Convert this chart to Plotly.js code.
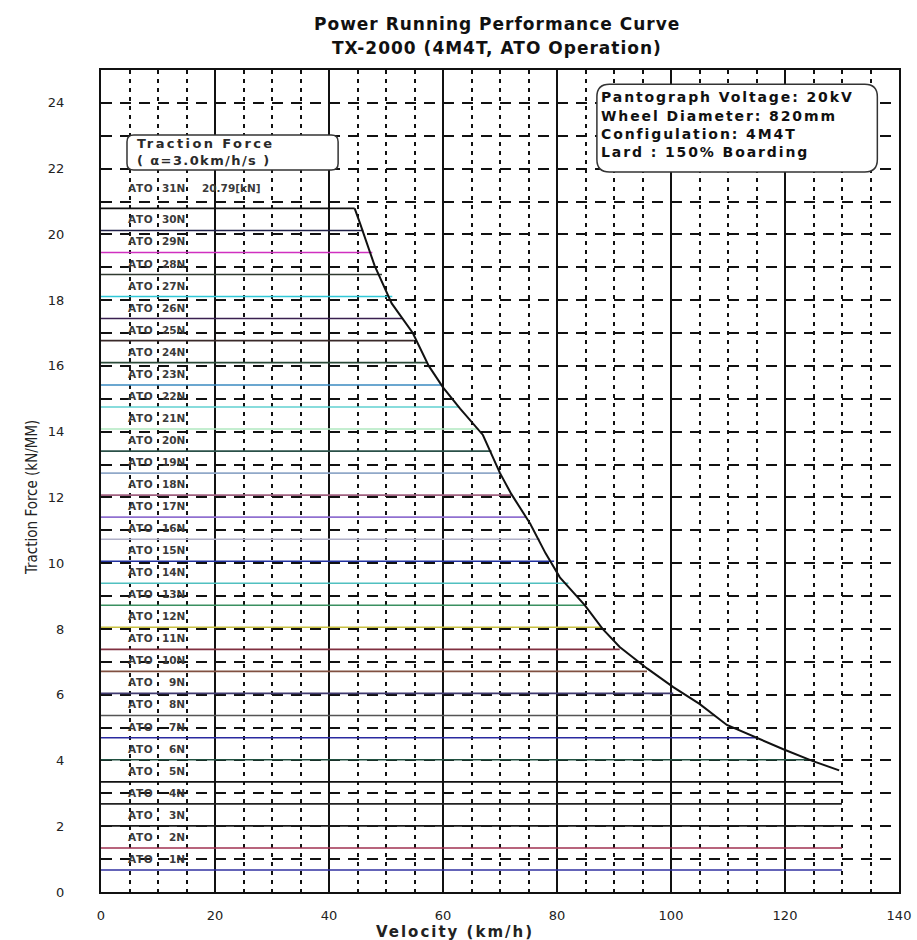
<!DOCTYPE html>
<html>
<head>
<meta charset="utf-8">
<script src="https://cdn.plot.ly/plotly-3.0.1.min.js"></script>
<style>html,body{margin:0;padding:0;background:#fff;}#chart{width:917px;height:940px;}</style>
</head>
<body>
<div id="chart"></div>
<script>
// Notch labels (1N .. 31N)
const notchLabels = ["1N","2N","3N","4N","5N","6N","7N","8N","9N","10N","11N","12N","13N","14N","15N","16N","17N","18N","19N","20N","21N","22N","23N","24N","25N","26N","27N","28N","29N","30N","31N"];
// Traction force per notch (kN/MM)
const notchForce = [0.67,1.34,2.01,2.68,3.35,4.02,4.69,5.37,6.04,6.71,7.38,8.05,8.72,9.39,10.06,10.73,11.40,12.07,12.74,13.41,14.08,14.75,15.42,16.10,16.77,17.44,18.11,18.78,19.45,20.12,20.79];
// Velocity where each notch line meets the max curve (km/h)
const notchEndVelocity = [130,130,130,130,130,124,115,107.7,100.4,95.8,91,87.9,84.9,82,79.5,77,74.5,72,70.2,68.5,66.3,62.7,59.8,57.2,54.9,52.9,51.1,49.3,47.6,46,44.5];
// Line colours per notch
const notchColors = ["#3030a0","#a03050","#1a1a1a","#222222","#111111","#205040","#2a2aa0","#555555","#403a70","#805040","#803040","#c8c040","#3a9060","#50c0c0","#2030a0","#b0b0c8","#9070d0","#a06080","#90a8c8","#2a5048","#b0e8c0","#60d0d0","#3a8ac0","#2a4a38","#3a2a2a","#3a2050","#30c8d8","#303a30","#d030c0","#202048","#111111"];
// Power running max traction curve
const curveVelocity = [44.5,45.4,48,51,54.7,57.5,60,63,67,70,72,75.3,78,80.5,84.9,88,91,95.8,100.4,105,109.8,115,119.6,124.9,129.5];
const curveForce = [20.79,20.36,19.05,17.9,17.0,16.0,15.35,14.7,13.9,12.74,12.1,11.2,10.3,9.57,8.72,8.0,7.45,6.8,6.23,5.72,5.08,4.68,4.35,3.98,3.7];
const xTicks = [0,20,40,60,80,100,120,140];
const yTicks = [0,2,4,6,8,10,12,14,16,18,20,22,24];

const traces = [];
for (let i = 0; i < notchForce.length; i++) {
  traces.push({
    type: 'scatter', mode: 'lines', showlegend: false, hoverinfo: 'skip',
    x: [0, notchEndVelocity[i]], y: [notchForce[i], notchForce[i]],
    line: {color: notchColors[i], width: 1.6}
  });
}
traces.push({
  type: 'scatter', mode: 'lines', showlegend: false, hoverinfo: 'skip',
  x: curveVelocity, y: curveForce, line: {color: '#111', width: 2}
});

function sp(t, px) { return '<span style="letter-spacing:' + px + 'px">' + t + '</span>'; }

const labFont = {family: 'DejaVu Sans, Verdana, sans-serif', size: 10.5, color: '#3a3a3a'};
const annotations = [];
for (let i = 0; i < notchForce.length; i++) {
  const yy = i === notchForce.length - 1 ? notchForce[i] + 0.62 : notchForce[i] + 0.335;
  annotations.push({xref:'x', yref:'y', x: 4.4, y: yy, text: '<b>' + sp('ATO', 0.6) + '</b>', showarrow:false, xanchor:'left', yanchor:'middle', font: labFont});
  annotations.push({xref:'x', yref:'y', x: 15.1, y: yy, text: '<b>' + notchLabels[i] + '</b>', showarrow:false, xanchor:'right', yanchor:'middle', font: labFont});
}
annotations.push({xref:'x', yref:'y', x: 17.4, y: notchForce[30] + 0.62, text: '<b>20.79[kN]</b>', showarrow:false, xanchor:'left', yanchor:'middle', font: labFont});

const boxFont = {family: 'DejaVu Sans, Verdana, sans-serif', size: 13, color: '#2a2a2a'};
annotations.push({xref:'x', yref:'y', x: 6.0, y: 22.76, text: '<b>' + sp('Traction Force', 2.4) + '</b>', showarrow:false, xanchor:'left', yanchor:'middle', font: boxFont});
annotations.push({xref:'x', yref:'y', x: 6.0, y: 22.24, text: '<b>' + sp('( α=3.0km/h/s )', 1.4) + '</b>', showarrow:false, xanchor:'left', yanchor:'middle', font: boxFont});

const infoFont = {family: 'DejaVu Sans, Verdana, sans-serif', size: 14, color: '#111'};
const infoLines = ['Pantograph Voltage: 20kV','Wheel Diameter: 820mm','Configulation: 4M4T','Lard : 150% Boarding'];
const infoY = [24.18, 23.60, 23.05, 22.51];
infoLines.forEach((t, k) => annotations.push({xref:'x', yref:'y', x: 87.3, y: infoY[k], text: '<b>' + sp(t, 1.9) + '</b>', showarrow:false, xanchor:'left', yanchor:'middle', font: infoFont}));

const titleFont = {family: 'DejaVu Sans, Verdana, sans-serif', size: 17, color: '#111'};
annotations.push({xref:'paper', yref:'paper', x: 0.496, y: 1.0560, text: '<b>' + sp('Power Running Performance Curve', 1) + '</b>', showarrow:false, xanchor:'center', yanchor:'middle', font: titleFont});
annotations.push({xref:'paper', yref:'paper', x: 0.496, y: 1.0265, text: '<b>' + sp('TX-2000 (4M4T, ATO Operation)', 1) + '</b>', showarrow:false, xanchor:'center', yanchor:'middle', font: titleFont});
annotations.push({xref:'paper', yref:'paper', x: 0.4436, y: -0.0487, text: '<b>' + sp('Velocity (km/h)', 2) + '</b>', showarrow:false, xanchor:'center', yanchor:'middle', font: {family: 'DejaVu Sans, Verdana, sans-serif', size: 15, color: '#222'}});
annotations.push({xref:'paper', yref:'paper', x: -0.0865, y: 0.4805, text: 'Traction Force (kN/MM)', textangle: -90, showarrow:false, xanchor:'center', yanchor:'middle', font: {family: 'DejaVu Sans Condensed, Liberation Sans Narrow, DejaVu Sans, sans-serif', size: 15, color: '#222'}});

function roundRect(x0, x1, y0, y1, rx, ry) {
  return `M ${x0+rx},${y1} L ${x1-rx},${y1} Q ${x1},${y1} ${x1},${y1-ry} L ${x1},${y0+ry} Q ${x1},${y0} ${x1-rx},${y0} L ${x0+rx},${y0} Q ${x0},${y0} ${x0},${y0+ry} L ${x0},${y1-ry} Q ${x0},${y1} ${x0+rx},${y1} Z`;
}
const shapes = [
  {type:'path', xref:'x', yref:'y', path: roundRect(4.56, 41.6, 21.96, 23.02, 1.2, 0.2), line:{color:'#333', width:1.5}, fillcolor:'#fff', layer:'above'},
  {type:'path', xref:'x', yref:'y', path: roundRect(87.0, 136.2, 21.9, 24.57, 2.2, 0.38), line:{color:'#333', width:1.5}, fillcolor:'#fff', layer:'above'}
];

const tickFont = {family: 'DejaVu Sans, Verdana, sans-serif', size: 13, color: '#222'};
const layout = {
  width: 917, height: 940,
  margin: {l: 101, r: 18, t: 70, b: 48},
  paper_bgcolor: '#fff', plot_bgcolor: '#fff',
  showlegend: false,
  xaxis: {
    range: [0, 140], tickmode: 'array', tickvals: xTicks, ticktext: xTicks.map(String),
    showgrid: true, gridcolor: '#111', gridwidth: 2,
    minor: {dtick: 5, tick0: 0, showgrid: true, gridcolor: '#111', gridwidth: 2, griddash: '4px,5px', ticks: ''},
    showline: true, mirror: true, linecolor: '#111', linewidth: 2, zeroline: false,
    ticks: '', tickfont: tickFont, ticklabelstandoff: 10, fixedrange: true
  },
  yaxis: {
    range: [0, 25], tickmode: 'array', tickvals: yTicks, ticktext: yTicks.map(String),
    showgrid: true, gridcolor: '#111', gridwidth: 2, griddash: '11px,8px',
    minor: {dtick: 1, tick0: 0, showgrid: true, gridcolor: '#111', gridwidth: 2, griddash: '11px,8px', ticks: ''},
    showline: true, mirror: true, linecolor: '#111', linewidth: 2, zeroline: false,
    ticks: '', tickfont: tickFont, ticklabelstandoff: 32, fixedrange: true
  },
  annotations: annotations,
  shapes: shapes
};
Plotly.newPlot('chart', traces, layout, {displayModeBar: false, staticPlot: true});
</script>
</body>
</html>
